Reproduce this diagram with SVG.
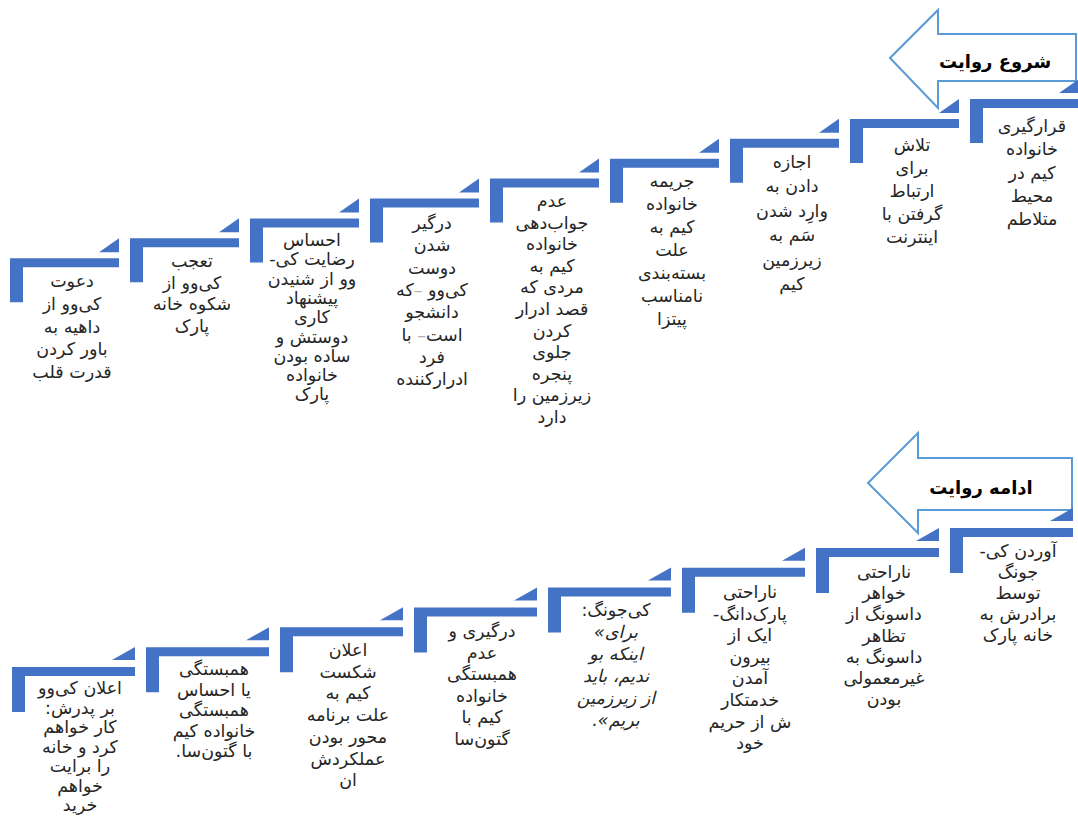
<svg xmlns="http://www.w3.org/2000/svg" xmlns:xlink="http://www.w3.org/1999/xlink" width="1078" height="818" viewBox="0 0 1078 818">
<style>
.bar{fill:#4472C4}
.arw{fill:#FFFFFF;stroke:#5B9BD5;stroke-width:2;stroke-linejoin:miter}
.lbl{font-family:"DejaVu Sans",sans-serif;font-size:17.5px;fill:#262626;text-anchor:middle;direction:rtl}
.ttl{font-family:"DejaVu Sans",sans-serif;font-size:18px;font-weight:bold;fill:#000000;text-anchor:middle;direction:rtl}
.it{font-style:italic}
.fd{fill:#B0B0B0}
</style>
<defs>
<g id="stepTop"><path d="M0,0 H109 V9 H13 V44 H0 Z"/><path d="M89,-6 L109,-20 L109,-6 Z"/></g>
<g id="stepBot"><path d="M0,0 H123 V9 H13 V45 H0 Z"/><path d="M100,-7 L123,-20 L123,-7 Z"/></g>
</defs>
<rect width="1078" height="818" fill="#FFFFFF"/>

<g id="start-arrow">
<polygon class="arw" points="890,58 938,10 938,34 1076,34 1076,81 938,81 938,108"/>
<text class="ttl" x="995" y="68">شروع روایت</text>
</g>
<g id="continue-arrow">
<polygon class="arw" points="868,483 918,433 918,458 1072,458 1072,510 918,510 918,533"/>
<text class="ttl" x="981" y="494">ادامه روایت</text>
</g>

<g id="connectors"></g>

<g id="t1"><use class="bar" xlink:href="#stepTop" x="970" y="99"/>
<text class="lbl"><tspan x="1032" y="132">قرارگیری</tspan><tspan x="1032" y="155">خانواده</tspan><tspan x="1032" y="179">کیم در</tspan><tspan x="1032" y="202">محیط</tspan><tspan x="1032" y="225">متلاطم</tspan></text></g>

<g id="t2"><use class="bar" xlink:href="#stepTop" x="850" y="118.9"/>
<text class="lbl"><tspan x="912" y="151">تلاش</tspan><tspan x="912" y="174">برای</tspan><tspan x="912" y="197">ارتباط</tspan><tspan x="912" y="220">گرفتن با</tspan><tspan x="912" y="243">اینترنت</tspan></text></g>

<g id="t3"><use class="bar" xlink:href="#stepTop" x="730" y="138.8"/>
<text class="lbl"><tspan x="792" y="168">اجازه</tspan><tspan x="792" y="192">دادن به</tspan><tspan x="792" y="217">وارِد شدن</tspan><tspan x="792" y="241">سَم به</tspan><tspan x="792" y="266">زیرزمین</tspan><tspan x="792" y="290">کیم</tspan></text></g>

<g id="t4"><use class="bar" xlink:href="#stepTop" x="610" y="158.7"/>
<text class="lbl"><tspan x="672" y="187">جریمه</tspan><tspan x="672" y="210">خانواده</tspan><tspan x="672" y="233">کیم به</tspan><tspan x="672" y="256">علت</tspan><tspan x="672" y="279">بسته&#x200C;بندی</tspan><tspan x="672" y="302">نامناسب</tspan><tspan x="672" y="325">پیتزا</tspan></text></g>

<g id="t5"><use class="bar" xlink:href="#stepTop" x="490" y="178.6"/>
<text class="lbl"><tspan x="552" y="207">عدم</tspan><tspan x="552" y="229">جواب&#x200C;دهی</tspan><tspan x="552" y="250">خانواده</tspan><tspan x="552" y="272">کیم به</tspan><tspan x="552" y="293">مردی که</tspan><tspan x="552" y="315">قصد ادرار</tspan><tspan x="552" y="337">کردن</tspan><tspan x="552" y="358">جلوی</tspan><tspan x="552" y="380">پنجره</tspan><tspan x="552" y="401">زیرزمین را</tspan><tspan x="552" y="423">دارد</tspan></text></g>

<g id="t6"><use class="bar" xlink:href="#stepTop" x="370" y="198.5"/>
<text class="lbl"><tspan x="432" y="229">درگیر</tspan><tspan x="432" y="251">شدن</tspan><tspan x="432" y="274">دوست</tspan><tspan x="432" y="296">کی&#x200C;وو <tspan class="fd">–</tspan>که</tspan><tspan x="432" y="318">دانشجو</tspan><tspan x="432" y="341">است<tspan class="fd">–</tspan> با</tspan><tspan x="432" y="363">فرد</tspan><tspan x="432" y="385">ادرارکننده</tspan></text></g>

<g id="t7"><use class="bar" xlink:href="#stepTop" x="250" y="218.4"/>
<text class="lbl"><tspan x="312" y="246">احساس</tspan><tspan x="312" y="265">رضایت کی-</tspan><tspan x="312" y="285">وو از شنیدن</tspan><tspan x="312" y="304">پیشنهاد</tspan><tspan x="312" y="323">کاری</tspan><tspan x="312" y="343">دوستش و</tspan><tspan x="312" y="362">ساده بودن</tspan><tspan x="312" y="381">خانواده</tspan><tspan x="312" y="400">پارک</tspan></text></g>

<g id="t8"><use class="bar" xlink:href="#stepTop" x="130" y="238.3"/>
<text class="lbl"><tspan x="192" y="267">تعجب</tspan><tspan x="192" y="289">کی&#x200C;وو از</tspan><tspan x="192" y="310">شکوه خانه</tspan><tspan x="192" y="332">پارک</tspan></text></g>

<g id="t9"><use class="bar" xlink:href="#stepTop" x="10" y="258.2"/>
<text class="lbl"><tspan x="72" y="287">دعوت</tspan><tspan x="72" y="310">کی&#x200C;وو از</tspan><tspan x="72" y="333">داهیه به</tspan><tspan x="72" y="355">باور کردن</tspan><tspan x="72" y="378">قدرت قلب</tspan></text></g>

<g id="b1"><use class="bar" xlink:href="#stepBot" x="950" y="528"/>
<text class="lbl"><tspan x="1018" y="557">آوردن کی-</tspan><tspan x="1018" y="578">جونگ</tspan><tspan x="1018" y="599">توسط</tspan><tspan x="1018" y="620">برادرش به</tspan><tspan x="1018" y="641">خانه پارک</tspan></text></g>

<g id="b2"><use class="bar" xlink:href="#stepBot" x="816" y="547.9"/>
<text class="lbl"><tspan x="884" y="578">ناراحتی</tspan><tspan x="884" y="599">خواهر</tspan><tspan x="884" y="620">داسونگ از</tspan><tspan x="884" y="642">تظاهر</tspan><tspan x="884" y="663">داسونگ به</tspan><tspan x="884" y="684">غیرمعمولی</tspan><tspan x="884" y="705">بودن</tspan></text></g>

<g id="b3"><use class="bar" xlink:href="#stepBot" x="682" y="567.7"/>
<text class="lbl"><tspan x="750" y="598">ناراحتی</tspan><tspan x="750" y="620">پارک&#x200C;دانگ-</tspan><tspan x="750" y="641">ایک از</tspan><tspan x="750" y="663">بیرون</tspan><tspan x="750" y="684">آمدن</tspan><tspan x="750" y="706">خدمتکار</tspan><tspan x="750" y="728">ش از حریم</tspan><tspan x="750" y="749">خود</tspan></text></g>

<g id="b4"><use class="bar" xlink:href="#stepBot" x="548" y="587.6"/>
<text class="lbl"><tspan x="616" y="616">کی&#x200C;جونگ:</tspan></text>
<text class="lbl it" x="616" y="638" style="direction:ltr">«برای</text>
<text class="lbl it"><tspan x="616" y="660">اینکه بو</tspan><tspan x="616" y="682">ندیم، باید</tspan><tspan x="616" y="704">از زیرزمین</tspan><tspan x="616" y="726">بریم».</tspan></text></g>

<g id="b5"><use class="bar" xlink:href="#stepBot" x="414" y="607.4"/>
<text class="lbl"><tspan x="482" y="637">درگیری و</tspan><tspan x="482" y="659">عدم</tspan><tspan x="482" y="680">همبستگی</tspan><tspan x="482" y="702">خانواده</tspan><tspan x="482" y="723">کیم با</tspan><tspan x="482" y="745">گتون&#x200C;سا</tspan></text></g>

<g id="b6"><use class="bar" xlink:href="#stepBot" x="280" y="627.3"/>
<text class="lbl"><tspan x="348" y="656">اعلان</tspan><tspan x="348" y="678">شکست</tspan><tspan x="348" y="699">کیم به</tspan><tspan x="348" y="721">علت برنامه</tspan><tspan x="348" y="743">محور بودن</tspan><tspan x="348" y="765">عملکردش</tspan><tspan x="348" y="786">ان</tspan></text></g>

<g id="b7"><use class="bar" xlink:href="#stepBot" x="146" y="647.2"/>
<text class="lbl"><tspan x="214" y="675">همبستگی</tspan><tspan x="214" y="696">یا احساس</tspan><tspan x="214" y="716">همبستگی</tspan><tspan x="214" y="737">خانواده کیم</tspan><tspan x="214" y="757">با گتون&#x200C;سا.</tspan></text></g>

<g id="b8"><use class="bar" xlink:href="#stepBot" x="12" y="667"/>
<text class="lbl"><tspan x="80" y="694">اعلان کی&#x200C;وو</tspan><tspan x="80" y="714">بر پدرش:</tspan><tspan x="80" y="733">کار خواهم</tspan><tspan x="80" y="753">کرد و خانه</tspan><tspan x="80" y="772">را برایت</tspan><tspan x="80" y="792">خواهم</tspan><tspan x="80" y="811">خرید</tspan></text></g>
</svg>
